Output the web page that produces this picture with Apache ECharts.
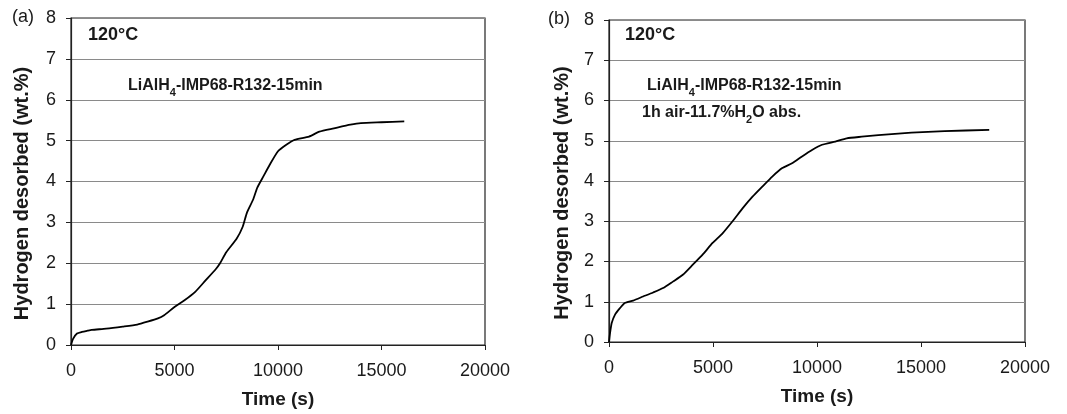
<!DOCTYPE html>
<html>
<head>
<meta charset="utf-8">
<script src="https://cdn.jsdelivr.net/npm/echarts@6/dist/echarts.min.js"></script>
<style>
  html, body { margin: 0; padding: 0; background: #fff; }
  #chart { width: 1067px; height: 414px; }
</style>
</head>
<body>
<div id="chart"></div>
<script>
// panel (a): LiAlH4-IMP68-R132-15min, time (s) vs wt.%
const timeA = [0, 100, 290, 530, 800, 1000, 1700, 2500, 3200, 3700, 4200, 4500, 5000, 5500, 6000, 6500, 7000, 7200, 7500, 8000, 8300, 8500, 8800, 9000, 9300, 9600, 10000, 10400, 10800, 11500, 12000, 12700, 13500, 14000, 15000, 16100]
const h2A = [0, 0.15, 0.28, 0.32, 0.35, 0.37, 0.4, 0.45, 0.5, 0.57, 0.65, 0.73, 0.93, 1.1, 1.3, 1.58, 1.86, 2.0, 2.27, 2.6, 2.9, 3.24, 3.56, 3.85, 4.13, 4.41, 4.74, 4.9, 5.02, 5.1, 5.22, 5.3, 5.39, 5.43, 5.45, 5.47]

// panel (b): after 1h air exposure
const timeB = [0, 50, 130, 290, 525, 760, 1160, 1640, 2120, 2600, 3070, 3550, 4030, 4500, 4980, 5460, 5940, 6420, 6900, 7370, 7850, 8330, 8800, 9280, 9760, 10240, 10880, 11430, 12150, 12950, 14540, 16130, 18280]
const h2B = [0, 0.22, 0.47, 0.68, 0.84, 0.97, 1.03, 1.13, 1.23, 1.34, 1.5, 1.67, 1.92, 2.17, 2.46, 2.7, 3.0, 3.32, 3.61, 3.86, 4.11, 4.32, 4.44, 4.61, 4.77, 4.9, 4.98, 5.06, 5.1, 5.14, 5.2, 5.24, 5.27]

const xTicks = [0, 5000, 10000, 15000, 20000]
const yTicks = [0, 1, 2, 3, 4, 5, 6, 7, 8]

const font = 'Liberation Sans, Arial, sans-serif'
const ink = '#1a1a1a'

const pairs = (xs, ys) => xs.map((x, i) => [x, ys[i]])

const xAxisFor = (gridIndex) => ({
  gridIndex,
  type: 'value',
  min: xTicks[0],
  max: xTicks[xTicks.length - 1],
  interval: 5000,
  name: 'Time (s)',
  nameLocation: 'middle',
  nameGap: 45,
  nameTextStyle: { fontFamily: font, fontSize: 19, fontWeight: 'bold', color: ink },
  axisLine: { show: true, lineStyle: { color: '#222', width: 1.2 } },
  axisTick: { show: true, inside: false, length: 5, lineStyle: { color: '#222' } },
  axisLabel: { fontFamily: font, fontSize: 18, color: ink, margin: 17, formatter: (v) => String(v) },
  splitLine: { show: false }
})

// title sits a little below the plot's middle in the original
const yAxisFor = (gridIndex, gap) => ({
  gridIndex,
  type: 'value',
  min: yTicks[0],
  max: yTicks[yTicks.length - 1],
  interval: 1,
  name: 'Hydrogen desorbed (wt.%)',
  nameLocation: 'middle',
  nameGap: gap,
  nameTextStyle: { fontFamily: font, fontSize: 20, fontWeight: 'bold', color: ink, padding: [0, 24, 0, 0] },
  axisLine: { show: true, lineStyle: { color: '#222', width: 1.2 } },
  axisTick: { show: true, inside: false, length: 5, lineStyle: { color: '#222' } },
  axisLabel: { fontFamily: font, fontSize: 18, color: ink, margin: 15 },
  splitLine: { show: true, lineStyle: { color: '#8a8a8a', width: 1 } }
})

const lineSeries = (idx, data) => ({
  type: 'line',
  xAxisIndex: idx,
  yAxisIndex: idx,
  data,
  showSymbol: false,
  smooth: 0.2,
  lineStyle: { color: '#000', width: 1.8 }
})

const sub = { fontFamily: font, fontSize: 11, fontWeight: 'bold', color: ink, verticalAlign: 'bottom', padding: [0, 0, -4, 0] }
const txt = { fontFamily: font, fontSize: 16, fontWeight: 'bold', color: ink }

const label = (left, top, text, extra) => ({
  type: 'text',
  left, top,
  style: Object.assign({
    text,
    fontFamily: font,
    fontSize: 16,
    fontWeight: 'bold',
    fill: ink,
    rich: { t: txt, s: sub }
  }, extra || {})
})

const chart = echarts.init(document.getElementById('chart'))
chart.setOption({
  animation: false,
  backgroundColor: '#fff',
  grid: [
    { left: 71, top: 18, width: 414, height: 329, show: true, borderColor: '#222', borderWidth: 1.2 },
    { left: 609, top: 20, width: 416, height: 322, show: true, borderColor: '#222', borderWidth: 1.2 }
  ],
  xAxis: [xAxisFor(0), xAxisFor(1)],
  yAxis: [yAxisFor(0, 39), yAxisFor(1, 37)],
  series: [
    lineSeries(0, pairs(timeA, h2A)),
    lineSeries(1, pairs(timeB, h2B))
  ],
  graphic: [
    label(12, 8, '(a)', { fontSize: 18, fontWeight: 'normal' }),
    label(548, 10, '(b)', { fontSize: 18, fontWeight: 'normal' }),
    label(88, 26, '120°C', { fontSize: 18 }),
    label(625, 26, '120°C', { fontSize: 18 }),
    label(128, 78, '{t|LiAlH}{s|4}{t|-IMP68-R132-15min}'),
    label(647, 78, '{t|LiAlH}{s|4}{t|-IMP68-R132-15min}'),
    label(642, 105, '{t|1h air-11.7%H}{s|2}{t|O abs.}')
  ]
})
</script>
</body>
</html>
